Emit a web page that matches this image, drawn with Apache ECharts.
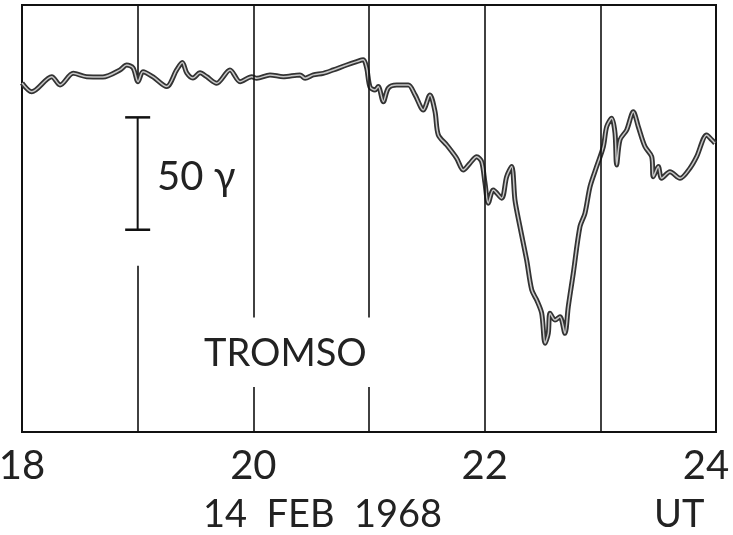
<!DOCTYPE html>
<html>
<head>
<meta charset="utf-8">
<script src="https://cdn.jsdelivr.net/npm/echarts@6/dist/echarts.min.js"></script>
<style>
html,body{margin:0;padding:0;background:#fff;}
#chart{width:733px;height:535px;}
</style>
</head>
<body>
<div id="chart"></div>
<script>
// UT hours (14 Feb 1968) and relative H-field (gamma) at Tromso
const hours = [18.000,18.084,18.257,18.329,18.443,18.559,18.700,18.847,18.905,18.960,
19.003,19.046,19.133,19.251,19.337,19.386,19.424,19.478,19.539,19.597,
19.683,19.798,19.885,19.986,20.029,20.144,20.259,20.403,20.447,20.518,
20.605,20.691,20.807,20.894,20.951,20.980,21.009,21.052,21.080,21.124,
21.167,21.239,21.340,21.398,21.469,21.527,21.571,21.599,21.672,21.758,
21.815,21.873,21.931,21.974,22.003,22.031,22.075,22.147,22.190,22.234,
22.262,22.305,22.363,22.407,22.450,22.493,22.522,22.550,22.565,22.608,
22.651,22.694,22.723,22.766,22.824,22.867,22.911,22.968,23.026,23.055,
23.098,23.127,23.141,23.170,23.228,23.285,23.328,23.386,23.444,23.458,
23.501,23.530,23.602,23.689,23.775,23.833,23.919,23.963,23.991];
const field = [155.3,151.4,158.1,154.4,159.6,158.1,158.0,161.1,163.3,162.0,
155.9,160.3,158.0,153.7,161.1,164.4,159.8,157.5,159.8,158.1,
155.2,161.1,155.9,158.1,157.4,158.9,158.1,158.9,157.4,158.9,
159.6,161.1,163.3,164.8,165.6,162.0,153.5,152.2,153.7,147.0,
153.0,154.4,154.4,150.0,143.3,150.0,142.5,132.2,127.7,121.8,
116.6,119.6,122.5,120.3,110.7,101.8,107.7,104.0,113.6,118.1,
103.2,91.4,76.5,63.2,58.7,52.8,39.5,43.9,52.8,49.8,
51.3,43.9,55.8,70.6,91.4,97.3,109.2,118.1,127.0,135.9,
139.6,132.9,118.8,130.0,134.4,142.5,135.9,127.0,122.5,113.6,
118.1,112.9,115.8,112.9,117.4,122.5,132.2,130.0,128.5];
const xTicks = [18, 20, 22, 24];
// hour grid lines: [hour, fromValue, toValue]
const hourLines = [[19,190,159],[19,74,0],[20,190,51],[20,20,0],[21,190,51],[21,20,0],[22,190,0],[23,190,0]];
const scaleHour = 19;
const scaleBar = [90, 140]; // 50 gamma
const labels = {scale: '50 γ', station: 'TROMSO', date: '14  FEB  1968', unit: 'UT'};

const FONT = 'Lato, "DejaVu Sans", sans-serif';
const trace = hours.map((h, i) => [h, field[i]]);
const chart = echarts.init(document.getElementById('chart'), null, {renderer: 'canvas'});
chart.setOption({
  backgroundColor: '#fff',
  animation: false,
  grid: {left: 22, right: 17, top: 5, bottom: 103, show: true, borderColor: '#111', borderWidth: 2,
         containLabel: false, outerBoundsMode: 'none'},
  xAxis: {
    type: 'value', min: 18, max: 24, interval: 1,
    axisLine: {show: false}, axisTick: {show: false}, splitLine: {show: false},
    axisLabel: {
      margin: 14, fontSize: 40, color: '#222', fontFamily: FONT, fontWeight: 400,
      hideOverlap: false,
      formatter: v => xTicks.includes(v) ? (v === 24 ? '{r|' + v + '}' : String(v)) : '',
      rich: {r: {fontSize: 40, color: '#222', fontFamily: FONT, fontWeight: 400, padding: [0, 20, 0, 0]}}
    }
  },
  yAxis: {
    type: 'value', min: 0, max: 190,
    axisLine: {show: false}, axisTick: {show: false}, splitLine: {show: false}, axisLabel: {show: false}
  },
  graphic: [
    {type: 'text', left: 157, top: 157, style: {text: labels.scale, font: '400 40px ' + FONT, fill: '#222'}},
    {type: 'text', left: 204, top: 335, style: {text: labels.station, font: '400 38px ' + FONT, fill: '#222'}},
    {type: 'text', left: 203, top: 496, style: {text: labels.date, font: '400 38px ' + FONT, fill: '#222'}},
    {type: 'text', left: 654, top: 496, style: {text: labels.unit, font: '400 38px ' + FONT, fill: '#222'}}
  ],
  series: [
    {
      type: 'line', data: [], silent: true,
      markLine: {
        silent: true, symbol: ['none', 'none'],
        lineStyle: {color: '#111', width: 1.6, type: 'solid'}, label: {show: false},
        data: hourLines.map(s => [{coord: [s[0], s[1]]}, {coord: [s[0], s[2]]}])
      }
    },
    {
      type: 'line', data: scaleBar.map(v => [scaleHour, v]), silent: true,
      symbol: 'rect', symbolSize: [25, 2.5],
      itemStyle: {color: '#111'}, lineStyle: {color: '#111', width: 2}
    },
    {
      type: 'line', data: trace, showSymbol: false, silent: true, smooth: 0.3,
      lineStyle: {color: '#333', width: 5}
    },
    {
      type: 'line', data: trace, showSymbol: false, silent: true, smooth: 0.3,
      lineStyle: {color: '#c8c8c8', width: 1.5}
    }
  ]
});
</script>
</body>
</html>
